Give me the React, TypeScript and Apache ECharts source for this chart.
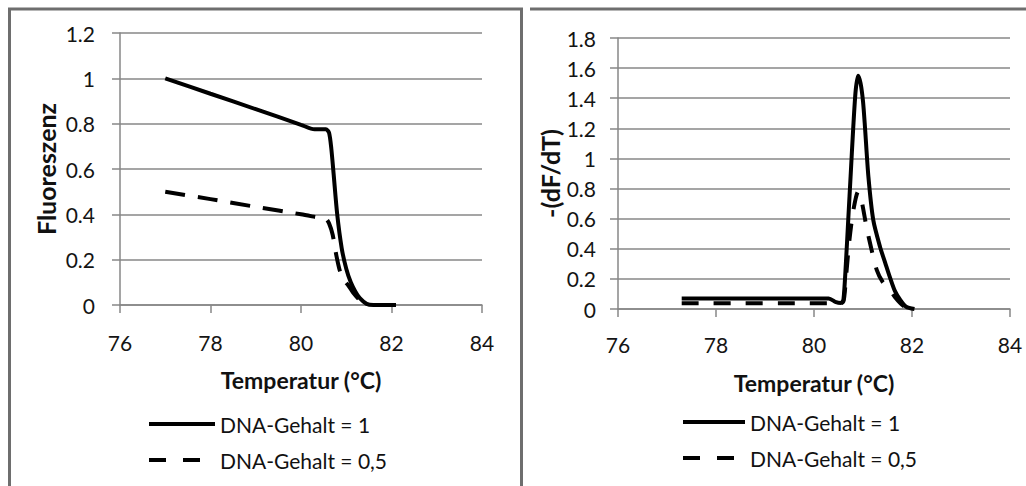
import React, { useEffect, useRef } from "react";
import * as echarts from "echarts";

const seriesNames = ["DNA-Gehalt = 1", "DNA-Gehalt = 0,5"];

// Left chart: Fluoreszenz vs Temperatur
const tempFluorFull = [77, 78, 79, 80, 80.3, 80.55, 80.62, 80.67, 80.72, 80.8, 80.9, 81.0, 81.1, 81.2, 81.3, 81.45, 81.6, 82.1];
const fluorFull = [1.0, 0.932, 0.864, 0.795, 0.775, 0.775, 0.76, 0.69, 0.58, 0.4, 0.25, 0.16, 0.1, 0.06, 0.03, 0.005, 0, 0];
const tempFluorHalf = [77, 78, 79, 80, 80.4, 80.55, 80.62, 80.7, 80.78, 80.86, 80.95, 81.05, 81.15, 81.3, 81.4];
const fluorHalf = [0.5, 0.467, 0.433, 0.4, 0.385, 0.38, 0.36, 0.31, 0.22, 0.15, 0.11, 0.085, 0.055, 0.02, 0];

// Right chart: -(dF/dT) vs Temperatur
const tempDerivFull = [77.3, 80.3, 80.45, 80.55, 80.6, 80.65, 80.7, 80.75, 80.8, 80.85, 80.9, 80.95, 81.0, 81.04, 81.11, 81.21, 81.35, 81.45, 81.55, 81.65, 81.76, 81.88, 82.05];
const derivFull = [0.07, 0.07, 0.045, 0.04, 0.06, 0.3, 0.6, 0.9, 1.2, 1.45, 1.55, 1.5, 1.38, 1.21, 0.88, 0.59, 0.41, 0.31, 0.21, 0.12, 0.06, 0.015, 0];
const tempDerivHalf = [77.3, 80.3, 80.5, 80.6, 80.65, 80.72, 80.8, 80.9, 80.97, 81.07, 81.17, 81.28, 81.4, 81.55, 81.65, 81.76, 81.9];
const derivHalf = [0.038, 0.038, 0.03, 0.05, 0.2, 0.45, 0.65, 0.78, 0.72, 0.547, 0.4, 0.26, 0.18, 0.126, 0.08, 0.04, 0];

const xMin = 76;
const xMax = 84;
const xStep = 2;

const FONT = "Lato, 'Noto Sans', sans-serif";
const GRID_COLOR = "#878787";
const LABEL_COLOR = "#141414";

function pairs(xs: number[], ys: number[]) {
  return xs.map((x, i) => [x, ys[i]]);
}

function xAxisCfg(gridIndex: number, nameGap: number, labelMargin: number) {
  return {
    type: "value",
    gridIndex,
    min: xMin,
    max: xMax,
    interval: xStep,
    name: "Temperatur (°C)",
    nameLocation: "middle",
    nameGap,
    nameTextStyle: { fontSize: 23, fontWeight: "bold", color: "#111", fontFamily: FONT },
    axisLine: { show: true, lineStyle: { color: GRID_COLOR, width: 1.5 } },
    axisTick: { show: true, inside: false, length: 8, lineStyle: { color: GRID_COLOR, width: 1.5 } },
    axisLabel: { fontSize: 21, color: LABEL_COLOR, margin: labelMargin, fontFamily: FONT },
    splitLine: { show: false },
  };
}

function yAxisCfg(gridIndex: number, max: number, name: string, nameGap: number, labelMargin: number) {
  return {
    type: "value",
    gridIndex,
    min: 0,
    max,
    interval: 0.2,
    name,
    nameLocation: "middle",
    nameGap,
    nameRotate: 90,
    nameTextStyle: { fontSize: 25, fontWeight: "bold", color: "#111", fontFamily: FONT },
    axisLine: { show: true, lineStyle: { color: GRID_COLOR, width: 1.5 } },
    axisTick: { show: true, inside: false, length: 8, lineStyle: { color: GRID_COLOR, width: 1.5 } },
    axisLabel: { fontSize: 21, color: LABEL_COLOR, margin: labelMargin, fontFamily: FONT },
    splitLine: { show: true, lineStyle: { color: GRID_COLOR, width: 1.5 } },
  };
}

function lineSeries(name: string, idx: number, data: number[][], dashed: boolean, dash: number[]) {
  return {
    type: "line",
    name,
    xAxisIndex: idx,
    yAxisIndex: idx,
    data,
    symbol: "none",
    showSymbol: false,
    smooth: 0.25,
    lineStyle: { color: "#000", width: 4, type: dashed ? dash : "solid", cap: "butt" },
    itemStyle: { color: "#000" },
  };
}

const hiddenSymbol = { color: "rgba(0,0,0,0)", borderColor: "rgba(0,0,0,0)", borderWidth: 0, opacity: 0 };

function legendCfg(left: number, top: number, itemWidth: number) {
  return {
    orient: "vertical",
    left,
    top,
    padding: 0,
    itemWidth,
    itemHeight: 22,
    itemGap: 14,
    selectedMode: false,
    icon: "inherit",
    itemStyle: hiddenSymbol,
    textStyle: { fontSize: 21, color: "#111", fontFamily: FONT, lineHeight: 22 },
    lineStyle: { width: 4 },
    data: [
      { name: seriesNames[0], icon: "inherit", itemStyle: hiddenSymbol, lineStyle: { width: 4, type: "solid", color: "#000", opacity: 1 } },
      { name: seriesNames[1], icon: "inherit", itemStyle: hiddenSymbol, lineStyle: { width: 4, type: [17, 17], color: "#000", opacity: 1 } },
    ],
  };
}

export default function App() {
  const ref = useRef<HTMLDivElement>(null);
  useEffect(() => {
    if (!ref.current) return;
    const chart = echarts.init(ref.current, undefined, { renderer: "svg" });
    chart.setOption({
      animation: false,
      backgroundColor: "#ffffff",
      grid: [
        { left: 120, top: 33, width: 362, height: 272 },
        { left: 618, top: 38, width: 392, height: 271 },
      ],
      xAxis: [xAxisCfg(0, 63, 27), xAxisCfg(1, 62, 25)],
      yAxis: [
        yAxisCfg(0, 1.2, "Fluoreszenz", 62, 25),
        yAxisCfg(1, 1.8, "-(dF/dT)", 54, 22),
      ],
      legend: [legendCfg(147, 413, 66), legendCfg(681, 411, 62)],
      series: [
        lineSeries(seriesNames[0], 0, pairs(tempFluorFull, fluorFull), false, []),
        lineSeries(seriesNames[1], 0, pairs(tempFluorHalf, fluorHalf), true, [20, 13]),
        lineSeries(seriesNames[0], 1, pairs(tempDerivFull, derivFull), false, []),
        lineSeries(seriesNames[1], 1, pairs(tempDerivHalf, derivHalf), true, [17, 15]),
      ],
      graphic: [
        {
          type: "polyline",
          shape: { points: [[9.5, 490], [9.5, 9], [521.5, 9], [521.5, 490]] },
          style: { stroke: "#6e6e6e", lineWidth: 3, fill: "none" },
          silent: true,
        },
        {
          type: "line",
          shape: { x1: 530, y1: 9, x2: 1026, y2: 9 },
          style: { stroke: "#6e6e6e", lineWidth: 3 },
          silent: true,
        },
      ],
    });
    return () => chart.dispose();
  }, []);
  return (
    <div
      ref={ref}
      style={{ position: "absolute", left: 0, top: 0, width: 1026, height: 486 }}
    />
  );
}
